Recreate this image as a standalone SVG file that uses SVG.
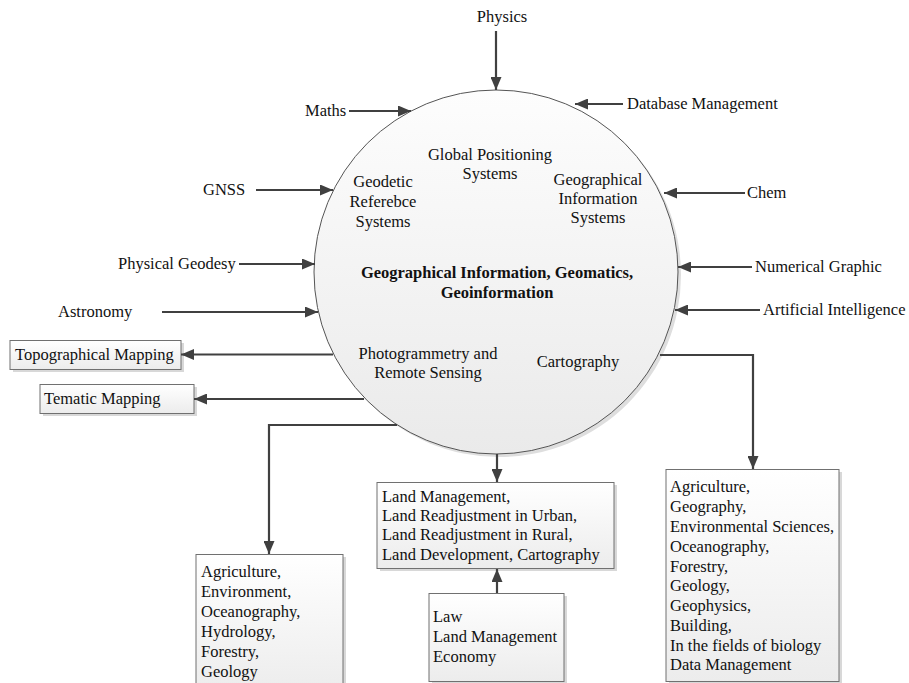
<svg xmlns="http://www.w3.org/2000/svg" width="909" height="683" viewBox="0 0 909 683">
<defs>
<style>
text{font-family:'Liberation Serif','Times New Roman',Times,'DejaVu Serif',serif;font-size:16.5px;fill:#111}
.c{text-anchor:middle}
.b{font-weight:bold}
.box{fill:url(#bg);stroke:#707070;stroke-width:1}
.sh{fill:#d8d8d8}
.con path{fill:none;stroke:#404040;stroke-width:2.2;marker-end:url(#ah)}
</style>
<linearGradient id="bg" x1="0" y1="0" x2="0" y2="1">
<stop offset="0" stop-color="#ffffff"/>
<stop offset="1" stop-color="#ececec"/>
</linearGradient>
<linearGradient id="cg" x1="0" y1="0" x2="0" y2="1">
<stop offset="0" stop-color="#fdfdfd"/>
<stop offset="1" stop-color="#eaeaea"/>
</linearGradient>
<marker id="ah" markerUnits="userSpaceOnUse" markerWidth="13" markerHeight="11" refX="13" refY="5.5" orient="auto">
<path d="M0,0 L13,5.5 L0,11 z" fill="#404040"/>
</marker>
</defs>
<rect width="909" height="683" fill="#ffffff"/>
<g font-family="Liberation Serif, Times New Roman, serif">
<g id="core">
<circle cx="499" cy="275" r="182" fill="#dedede"/>
<circle cx="496" cy="272" r="182" fill="url(#cg)" stroke="#555" stroke-width="1"/>
<text class="c" x="490" y="160">Global Positioning</text>
<text class="c" x="490" y="179">Systems</text>
<text class="c" x="383" y="187">Geodetic</text>
<text class="c" x="383" y="207">Referebce</text>
<text class="c" x="383" y="227">Systems</text>
<text class="c" x="598" y="185">Geographical</text>
<text class="c" x="598" y="204">Information</text>
<text class="c" x="598" y="223">Systems</text>
<text class="c b" x="497" y="278">Geographical Information, Geomatics,</text>
<text class="c b" x="497" y="298">Geoinformation</text>
<text class="c" x="428" y="359">Photogrammetry and</text>
<text class="c" x="428" y="378">Remote Sensing</text>
<text class="c" x="578" y="367">Cartography</text>
</g>

<g id="physics"><text class="c" x="502" y="22">Physics</text></g>
<g id="maths"><text x="305" y="116">Maths</text></g>
<g id="database"><text x="627" y="109">Database Management</text></g>
<g id="gnss"><text x="203" y="195">GNSS</text></g>
<g id="chem"><text x="747" y="198">Chem</text></g>
<g id="physgeo"><text x="118" y="269">Physical Geodesy</text></g>
<g id="numgraph"><text x="755" y="272">Numerical Graphic</text></g>
<g id="astronomy"><text x="58" y="317">Astronomy</text></g>
<g id="ai"><text x="763" y="315">Artificial Intelligence</text></g>

<g id="topo">
<rect class="sh" x="13" y="343" width="171" height="29"/>
<rect class="box" x="10" y="340.5" width="171" height="29"/>
<text x="15" y="360">Topographical Mapping</text>
</g>
<g id="tematic">
<rect class="sh" x="43" y="387" width="154" height="29"/>
<rect class="box" x="40" y="384.5" width="154" height="29"/>
<text x="44" y="404">Tematic Mapping</text>
</g>
<g id="land">
<rect class="sh" x="380" y="485" width="237" height="86"/>
<rect class="box" x="377" y="482.5" width="237" height="86"/>
<text x="382" y="502">Land Management,</text>
<text x="382" y="521">Land Readjustment in Urban,</text>
<text x="382" y="540">Land Readjustment in Rural,</text>
<text x="382" y="560">Land Development, Cartography</text>
</g>
<g id="law">
<rect class="sh" x="432" y="596" width="135" height="88"/>
<rect class="box" x="429" y="593.5" width="135" height="88"/>
<text x="433" y="622">Law</text>
<text x="433" y="642">Land Management</text>
<text x="433" y="662">Economy</text>
</g>
<g id="left-fields">
<rect class="sh" x="199" y="557" width="147" height="140"/>
<rect class="box" x="196" y="554.5" width="147" height="140"/>
<text x="201" y="577">Agriculture,</text>
<text x="201" y="597">Environment,</text>
<text x="201" y="617">Oceanography,</text>
<text x="201" y="637">Hydrology,</text>
<text x="201" y="657">Forestry,</text>
<text x="201" y="677">Geology</text>
</g>
<g id="right-fields">
<rect class="sh" x="669" y="472" width="173" height="212"/>
<rect class="box" x="666" y="469.5" width="173" height="212"/>
<text x="670" y="492">Agriculture,</text>
<text x="670" y="512">Geography,</text>
<text x="670" y="532">Environmental Sciences,</text>
<text x="670" y="552">Oceanography,</text>
<text x="670" y="572">Forestry,</text>
<text x="670" y="591">Geology,</text>
<text x="670" y="611">Geophysics,</text>
<text x="670" y="631">Building,</text>
<text x="670" y="651">In the fields of biology</text>
<text x="670" y="670">Data Management</text>
</g>

<g id="connectors" class="con">
<path d="M496,31 L496,90"/>
<path d="M349,111 L411,111"/>
<path d="M623,104 L575,104"/>
<path d="M256,190 L333,190"/>
<path d="M239,264 L315,264"/>
<path d="M162,312 L318,312"/>
<path d="M745,193 L664,193"/>
<path d="M752,267 L678,267"/>
<path d="M760,310 L675,310"/>
<path d="M333,354.5 L181,354.5"/>
<path d="M364,399 L194,399"/>
<path d="M397,425 L269,425 L269,554"/>
<path d="M497,454 L497,482"/>
<path d="M497,593 L497,569"/>
<path d="M660,355 L753,355 L753,469"/>
</g>
</g>
</svg>
